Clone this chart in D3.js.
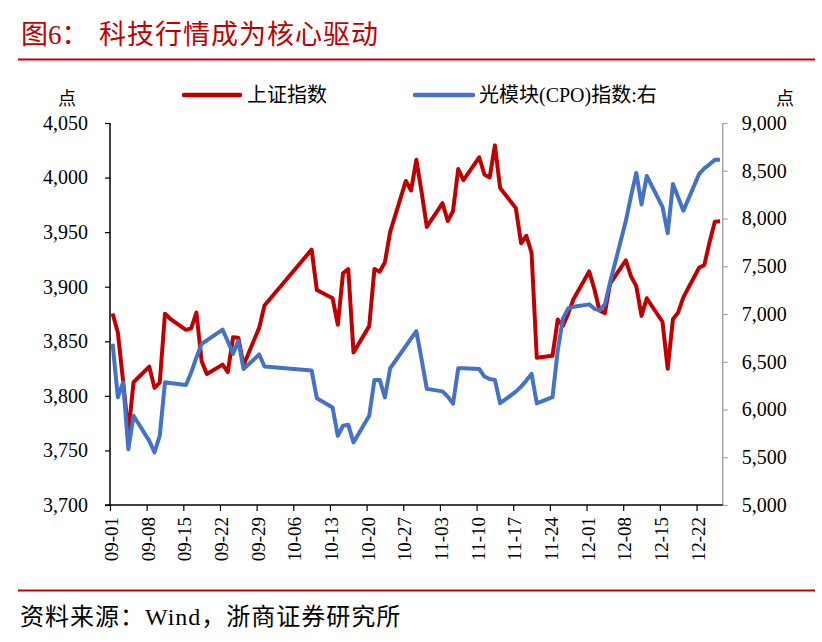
<!DOCTYPE html>
<html>
<head>
<meta charset="utf-8">
<script src="https://cdn.jsdelivr.net/npm/d3@7"></script>
<style>
  html, body { margin: 0; padding: 0; background: #ffffff; }
  svg { display: block; }
  text { font-family: "Liberation Serif", "Noto Sans CJK SC", serif; }
</style>
</head>
<body>
<svg id="chart" width="822" height="642"></svg>
<script>
// ---- data (2025, trading days) ----
const dates = [
  "09-01","09-02","09-03","09-04","09-05","09-08","09-09","09-10","09-11","09-12",
  "09-15","09-16","09-17","09-18","09-19","09-22","09-23","09-24","09-25","09-26",
  "09-29","09-30",
  "10-09","10-10","10-13","10-14","10-15","10-16","10-17","10-20","10-21","10-22",
  "10-23","10-24","10-27","10-28","10-29","10-30","10-31",
  "11-03","11-04","11-05","11-06","11-07","11-10","11-11","11-12","11-13","11-14",
  "11-17","11-18","11-19","11-20","11-21","11-24","11-25","11-26","11-27","11-28",
  "12-01","12-02","12-03","12-04","12-05","12-08","12-09","12-10","12-11","12-12",
  "12-15","12-16","12-17","12-18","12-19","12-22","12-23","12-24","12-25","12-26"
];
const shIndex = [
  3875.5,3858.1,3813.6,3765.9,3812.5,3826.8,3807.3,3812.2,3875.3,3870.6,
  3860.5,3861.9,3876.3,3831.7,3820.1,3828.6,3821.8,3853.6,3853.3,3828.1,
  3862.5,3882.8,
  3934.0,3897.0,3889.5,3865.2,3912.2,3916.2,3839.8,3863.9,3916.3,3913.8,
  3922.4,3950.3,3996.9,3988.2,4016.3,3986.9,3954.8,
  3976.5,3960.2,3969.3,4007.8,3997.6,4018.6,4002.8,4000.1,4029.5,3990.5,
  3972.0,3939.8,3946.7,3931.1,3834.9,3836.8,3870.0,3864.2,3875.3,3888.6,
  3914.0,3897.7,3878.0,3875.8,3902.8,3924.1,3909.5,3900.5,3873.3,3889.4,
  3867.9,3824.8,3870.3,3876.4,3890.5,3917.4,3920.0,3941.0,3959.6,3960.0
];
const cpoIndex = [
  6688,6127,6285,5585,5935,5672,5550,5725,6285,6277,
  6256,6387,6545,6688,6723,6836,6713,6583,6718,6424,
  6576,6450,
  6408,6117,6022,5725,5830,5841,5655,5935,6310,6310,
  6127,6432,6665,6744,6821,6524,6216,
  6190,6135,6061,6432,6431,6424,6345,6319,6310,6066,
  6187,6240,6303,6373,6064,6130,6618,6954,7059,7075,
  7101,7054,7038,7101,7333,7973,8236,8478,8147,8446,
  8121,7847,8362,8220,8082,8467,8525,8567,8614,8614
];
const leftTicks = [3700,3750,3800,3850,3900,3950,4000,4050];
const rightTicks = [5000,5500,6000,6500,7000,7500,8000,8500,9000];
const xTickLabels = ["09-01","09-08","09-15","09-22","09-29","10-06","10-13","10-20",
                     "10-27","11-03","11-10","11-17","11-24","12-01","12-08","12-15","12-22"];
const seriesNames = ["上证指数", "光模块(CPO)指数:右"];
const year = 2025;

// ---- layout ----
const RED = "#c00000", BLUE = "#4472c4";
const plot = { left: 110, right: 722.7, top: 123, bottom: 505 };
const svg = d3.select("#chart");

const parse = (s, h) => { const [m, d] = s.split("-").map(Number); return new Date(year, m - 1, d, h); };

const x = d3.scaleTime()
  .domain([parse("09-01", 0), parse("12-27", 0)])
  .range([plot.left, plot.right]);
const yL = d3.scaleLinear().domain([3700, 4050]).range([plot.bottom, plot.top]);
const yR = d3.scaleLinear().domain([5000, 9000]).range([plot.bottom, plot.top]);

// ---- title ----
svg.append("text").attr("x", 21).attr("y", 44).attr("fill", RED)
  .style("font-size", "27px").text("图6：");
svg.append("text").attr("x", 99).attr("y", 44).attr("fill", RED)
  .style("font-size", "27px").style("letter-spacing", "1px").text("科技行情成为核心驱动");
svg.append("line").attr("x1", 18).attr("x2", 815).attr("y1", 59.5).attr("y2", 59.5)
  .attr("stroke", RED).attr("stroke-width", 2);

// ---- footer ----
svg.append("line").attr("x1", 18).attr("x2", 815).attr("y1", 590.5).attr("y2", 590.5)
  .attr("stroke", RED).attr("stroke-width", 2);
svg.append("text").attr("x", 20).attr("y", 625).attr("fill", "#000")
  .style("font-size", "24px").style("letter-spacing", "1px").text("资料来源：Wind，浙商证券研究所");

// ---- unit labels ----
svg.append("text").attr("x", 67).attr("y", 105).attr("text-anchor", "middle")
  .style("font-size", "18px").text("点");
svg.append("text").attr("x", 785).attr("y", 105).attr("text-anchor", "middle")
  .style("font-size", "18px").text("点");

// ---- legend ----
const legend = [
  { name: seriesNames[0], color: RED, x1: 184, x2: 240, tx: 247 },
  { name: seriesNames[1], color: BLUE, x1: 415, x2: 473, tx: 479 }
];
legend.forEach(l => {
  svg.append("line").attr("x1", l.x1).attr("x2", l.x2).attr("y1", 95).attr("y2", 95)
    .attr("stroke", l.color).attr("stroke-width", 4.5).attr("stroke-linecap", "round");
  svg.append("text").attr("x", l.tx).attr("y", 102).style("font-size", "20px").text(l.name);
});

// ---- axes ----
const leftAxis = d3.axisLeft(yL).tickValues(leftTicks).tickSize(5).tickPadding(17)
  .tickFormat(d3.format(","));
const gL = svg.append("g").attr("transform", `translate(${plot.left},0)`).call(leftAxis);
gL.select(".domain").remove();
gL.append("line").attr("x1", 0).attr("x2", 0).attr("y1", plot.top).attr("y2", plot.bottom)
  .attr("stroke", "#000").attr("stroke-width", 1.5);
gL.selectAll(".tick line").attr("stroke", "#000").attr("stroke-width", 1.2);
gL.selectAll(".tick text").style("font-size", "20px").attr("fill", "#000")
  .style("font-family", "'Liberation Serif', serif");

const rightAxis = d3.axisRight(yR).tickValues(rightTicks).tickSize(5).tickPadding(14)
  .tickFormat(d3.format(","));
const gR = svg.append("g").attr("transform", `translate(${plot.right},0)`).call(rightAxis);
gR.select(".domain").remove();
gR.append("line").attr("x1", 0).attr("x2", 0).attr("y1", plot.top).attr("y2", plot.bottom)
  .attr("stroke", "#a6a6a6").attr("stroke-width", 1.5);
gR.selectAll(".tick line").attr("stroke", "#a6a6a6").attr("stroke-width", 1.2);
gR.selectAll(".tick text").style("font-size", "20px").attr("fill", "#000")
  .style("font-family", "'Liberation Serif', serif");

const xTicks = xTickLabels.map(s => parse(s, 0));
const bottomAxis = d3.axisBottom(x).tickValues(xTicks).tickSize(6).tickFormat(d3.timeFormat("%m-%d"));
const gB = svg.append("g").attr("transform", `translate(0,${plot.bottom})`).call(bottomAxis);
gB.select(".domain").remove();
gB.append("line").attr("x1", plot.left - 5).attr("x2", plot.right).attr("y1", 0).attr("y2", 0)
  .attr("stroke", "#000").attr("stroke-width", 1.5);
gB.selectAll(".tick line").attr("stroke", "#000").attr("stroke-width", 1.2);
gB.selectAll(".tick text")
  .style("font-size", "19px").attr("fill", "#000").style("font-family", "'Liberation Serif', serif")
  .attr("text-anchor", "end").attr("dy", "0.35em")
  .attr("transform", "translate(1,12) rotate(-90)")
  .attr("x", 0).attr("y", 0);

// ---- lines ----
const pts = dates.map((s, i) => ({ t: parse(s, 12), sh: shIndex[i], cpo: cpoIndex[i] }));
const lineSH = d3.line().x(d => x(d.t)).y(d => yL(d.sh));
const lineCPO = d3.line().x(d => x(d.t)).y(d => yR(d.cpo));
svg.append("path").datum(pts).attr("d", lineSH).attr("fill", "none")
  .attr("stroke", RED).attr("stroke-width", 4).attr("stroke-linejoin", "round");
svg.append("path").datum(pts).attr("d", lineCPO).attr("fill", "none")
  .attr("stroke", BLUE).attr("stroke-width", 4).attr("stroke-linejoin", "round");
</script>
</body>
</html>
